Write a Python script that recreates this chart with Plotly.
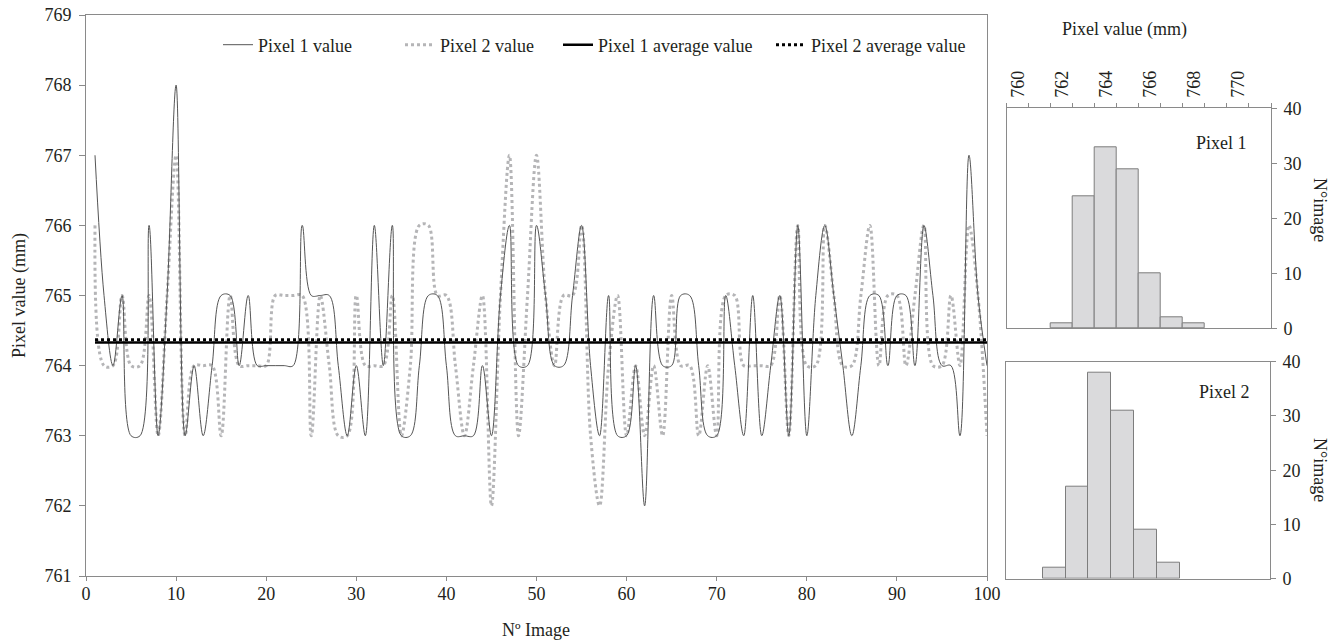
import numpy as np
import plotly.graph_objects as go

# ---------------- data ----------------
image_no = list(range(1, 101))

pixel1 = [767, 765, 764, 765, 763, 763, 766, 763, 765, 768,
          763, 764, 763, 764, 765, 765, 764, 765, 764, 764,
          764, 764, 764, 766, 765, 765, 765, 764, 763, 764,
          763, 766, 764, 766, 763, 763, 764, 765, 765, 764,
          763, 763, 763, 764, 763, 765, 766, 764, 764, 766,
          765, 764, 764, 765, 766, 764, 763, 765, 763, 763,
          764, 762, 765, 764, 764, 765, 765, 764, 763, 763,
          765, 764, 763, 765, 763, 764, 765, 763, 766, 763,
          765, 766, 765, 764, 763, 764, 765, 765, 764, 765,
          765, 764, 766, 765, 764, 764, 763, 767, 765, 764]

pixel2 = [766, 764, 764, 765, 764, 764, 765, 763, 765, 767,
          763, 764, 764, 764, 763, 765, 764, 764, 764, 764,
          765, 765, 765, 765, 763, 765, 764, 763, 763, 765,
          764, 764, 764, 765, 763, 764, 766, 766, 765, 765,
          764, 763, 764, 765, 762, 765, 767, 763, 765, 767,
          765, 764, 765, 765, 766, 763, 762, 764, 765, 763,
          764, 763, 764, 763, 765, 764, 764, 763, 764, 763,
          765, 765, 764, 764, 764, 764, 765, 763, 766, 764,
          764, 766, 765, 764, 764, 765, 766, 764, 765, 765,
          764, 765, 766, 764, 764, 765, 764, 766, 765, 763]

main_x_ticks = list(range(0, 101, 10))
main_y_ticks = list(range(761, 770))
hist_x_ticks = list(range(760, 771, 2))
hist_y_ticks = [0, 10, 20, 30, 40]

avg1 = float(np.mean(pixel1))
avg2 = float(np.mean(pixel2))

FONT = "Liberation Serif"
AXC = "#8a8a8a"
TXT = "#231f20"
W, H = 1338, 641


def px_x(p):
    return p / W


def px_y(p):
    return 1 - p / H


fig = go.Figure()

fig.add_trace(go.Scatter(
    x=image_no, y=pixel2, mode="lines", name="Pixel 2 value", legend="legend2",
    line=dict(color="#b5b5b7", width=3, dash="dot", shape="spline", smoothing=1)))
fig.add_trace(go.Scatter(
    x=image_no, y=pixel1, mode="lines", name="Pixel 1 value", legend="legend",
    line=dict(color="#555555", width=1, shape="spline", smoothing=1)))
fig.add_trace(go.Scatter(
    x=[image_no[0], image_no[-1]], y=[avg1, avg1], mode="lines", legend="legend3",
    name="Pixel 1 average value", line=dict(color="#000000", width=2.5)))
fig.add_trace(go.Scatter(
    x=[image_no[0], image_no[-1]], y=[avg2, avg2], mode="lines", legend="legend4",
    name="Pixel 2 average value", line=dict(color="#000000", width=3, dash="dot")))

bar_style = dict(color="#dadadc", line=dict(color="#7d7d7d", width=1))
fig.add_trace(go.Histogram(
    x=pixel1, xbins=dict(start=min(pixel1) - 0.5, end=max(pixel1) + 0.5, size=1),
    xaxis="x2", yaxis="y2", marker=bar_style, showlegend=False))
fig.add_trace(go.Histogram(
    x=pixel2, xbins=dict(start=min(pixel2) - 0.5, end=max(pixel2) + 0.5, size=1),
    xaxis="x3", yaxis="y3", marker=bar_style, showlegend=False))

tickfont = dict(family=FONT, size=18, color=TXT)
common = dict(showgrid=False, zeroline=False, showline=True, linecolor=AXC,
              linewidth=1, tickcolor=AXC, tickfont=tickfont, automargin=False)

legend_font = dict(family=FONT, size=18, color=TXT)


def leg(xpx):
    return dict(orientation="h", x=px_x(xpx), xanchor="left", y=px_y(45), yanchor="middle",
                bgcolor="rgba(0,0,0,0)", font=legend_font, itemwidth=30)


fig.update_layout(
    width=W, height=H,
    margin=dict(l=0, r=0, t=0, b=0),
    paper_bgcolor="white", plot_bgcolor="white",
    font=dict(family=FONT, size=18, color=TXT),
    bargap=0,
    legend=leg(218), legend2=leg(400), legend3=leg(558), legend4=leg(771),
    xaxis=dict(domain=[px_x(86), px_x(987)], range=[0, 100], tickvals=main_x_ticks,
               ticks="outside", ticklen=4, ticklabelstandoff=-3, mirror=True, anchor="y",
               **common),
    yaxis=dict(domain=[px_y(576), px_y(15)], range=[761, 769], tickvals=main_y_ticks,
               ticks="outside", ticklen=6, ticklabelstandoff=4, mirror=True, anchor="x",
               **common),
    xaxis2=dict(domain=[px_x(1006.7), px_x(1271)], range=[759.5, 771.5], side="top",
                tickvals=hist_x_ticks, ticks="", tickangle=-90, mirror=True, anchor="y2",
                ticklabelstandoff=6,
                minor=dict(ticks="outside", tick0=759.5, dtick=1, ticklen=4, tickcolor=AXC),
                **common),
    yaxis2=dict(domain=[px_y(328.3), px_y(108.3)], range=[0, 40], tickvals=hist_y_ticks,
                side="right", ticks="outside", ticklen=5, ticklabelstandoff=3, mirror=True,
                anchor="x2", **common),
    xaxis3=dict(domain=[px_x(1006), px_x(1270)], range=[759.9, 771.43], showticklabels=False,
                ticks="", mirror=True, anchor="y3", **common),
    yaxis3=dict(domain=[px_y(578.7), px_y(361.7)], range=[0, 40], tickvals=hist_y_ticks,
                side="right", ticks="outside", ticklen=5, ticklabelstandoff=3, mirror=True,
                anchor="x3", **common),
)

ann = dict(showarrow=False, xref="paper", yref="paper", xanchor="center", yanchor="middle",
           font=dict(family=FONT, size=18, color=TXT))
fig.add_annotation(text="Pixel value (mm)", x=px_x(19), y=px_y(296), textangle=-90, **ann)
fig.add_annotation(text="Nº Image", x=px_x(536), y=px_y(630), **ann)
fig.add_annotation(text="Pixel value (mm)", x=px_x(1124), y=px_y(30), **ann)
fig.add_annotation(text="N°image", x=px_x(1320), y=px_y(210), textangle=90, **ann)
fig.add_annotation(text="N°image", x=px_x(1320), y=px_y(470), textangle=90, **ann)
fig.add_annotation(text="Pixel 1", x=px_x(1221), y=px_y(143), **ann)
fig.add_annotation(text="Pixel 2", x=px_x(1224), y=px_y(392), **ann)

fig.write_html("out.html", config={"displayModeBar": False},
               post_script="document.body.style.margin='0';")
